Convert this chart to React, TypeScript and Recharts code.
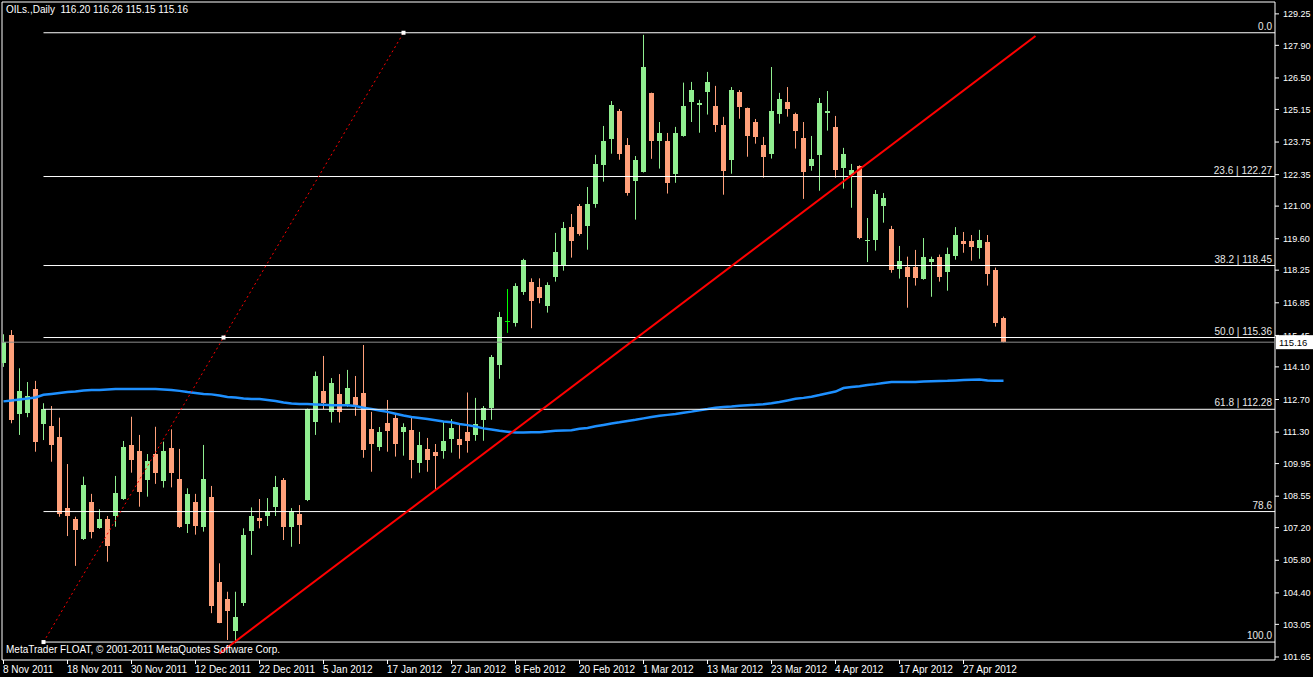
import {
  ComposedChart,
  Bar,
  Line,
  XAxis,
  YAxis,
  ReferenceLine,
  ReferenceArea,
} from 'recharts';

const FONT = '"Liberation Sans", Arial, sans-serif';

const BULL = '#90ee90';
const BEAR = '#ffa07a';
const DOJI = '#00ff00';

// daily OHLC, 8 Nov 2011 .. 4 May 2012 (one row per trading day)
const opens = [
  114.25, 115.47, 112.08, 112.13, 113.15, 111.65, 111.56, 111.11,
  108.04, 107.57, 106.7, 108.3, 107.19, 107.57, 107.7, 108.43,
  110.75, 110.49, 109.25, 110.36, 109.2, 110.61, 109.29, 107.37,
  108.3, 107.23, 108.52, 104.87, 104.14, 102.78, 103.98, 107.07,
  107.62, 107.7, 108.09, 109.25, 107.23, 107.79, 108.39, 111.75,
  113.07, 112.18, 112.94, 112.51, 112.81, 112.98, 111.44, 110.68,
  111.69, 111.91, 111.32, 111.39, 109.99, 110.58, 110.45, 110.5,
  111.02, 111.01, 111.31, 111.19, 111.83, 112.35, 114.2, 116.08,
  116.0, 117.33, 117.73, 117.52, 116.73, 117.97, 118.47, 120.11,
  121.01, 120.16, 121.11, 122.78, 123.9, 125.08, 123.62, 122.09,
  122.48, 125.85, 123.81, 123.79, 122.39, 124.01, 125.47, 125.35,
  125.9, 125.29, 124.48, 122.99, 125.9, 125.21, 124.61, 123.62,
  123.25, 124.97, 125.46, 124.95, 123.92, 122.74, 123.21, 125.01,
  124.4, 122.65, 122.34, 122.71, 119.52, 119.56, 121.02, 120.02,
  118.32, 118.4, 118.4, 117.89, 118.62, 118.83, 118.19, 118.87,
  119.5, 119.5, 119.22, 119.46, 118.27, 116.2,
];

const highs = [
  115.5, 115.68, 114.04, 113.45, 113.5, 112.54, 112.42, 111.92,
  109.93, 107.67, 109.39, 108.65, 107.99, 107.7, 109.42, 110.92,
  111.96, 111.18, 110.36, 111.53, 110.89, 111.42, 110.58, 108.89,
  108.65, 110.75, 108.99, 105.67, 104.45, 104.45, 107.17, 108.07,
  108.43, 108.47, 109.42, 109.33, 108.04, 108.17, 112.31, 113.9,
  114.57, 113.62, 113.79, 113.97, 113.71, 115.04, 112.17, 111.52,
  112.68, 112.04, 111.68, 111.94, 111.31, 111.05, 110.79, 111.74,
  111.86, 111.65, 113.0, 112.77, 112.42, 114.61, 116.46, 117.44,
  117.69, 118.74, 117.9, 117.9, 117.73, 119.85, 120.32, 120.66,
  121.09, 121.82, 123.2, 124.44, 125.51, 125.17, 123.92, 123.15,
  128.35, 125.87, 124.61, 124.14, 124.4, 126.3, 126.33, 125.56,
  126.76, 126.16, 124.83, 126.11, 125.98, 125.23, 124.74, 123.97,
  126.97, 125.86, 126.11, 125.01, 124.61, 124.01, 125.64, 125.94,
  124.87, 123.5, 122.81, 122.75, 120.49, 121.69, 121.56, 120.15,
  119.29, 118.83, 119.12, 119.63, 118.83, 118.92, 119.22, 120.1,
  119.89, 119.76, 119.98, 119.76, 118.36, 116.26,
];

const lows = [
  114.1, 111.68, 111.18, 111.94, 110.46, 110.96, 110.03, 107.67,
  106.84, 105.56, 106.67, 106.74, 107.15, 105.74, 107.24, 108.39,
  109.56, 108.1, 108.53, 109.08, 108.92, 108.93, 107.19, 106.97,
  106.9, 107.03, 103.53, 103.1, 102.38, 102.24, 103.84, 106.03,
  107.17, 107.27, 107.7, 106.67, 106.38, 106.5, 108.34, 111.18,
  112.29, 111.71, 111.71, 112.39, 112.0, 110.2, 109.6, 110.5,
  110.46, 110.25, 110.29, 109.32, 109.56, 109.6, 108.82, 110.16,
  110.42, 110.16, 110.42, 110.93, 110.93, 111.83, 113.59, 115.56,
  115.83, 117.19, 115.76, 116.83, 116.43, 117.76, 118.23, 118.79,
  119.73, 119.13, 120.93, 122.05, 123.25, 122.99, 121.45, 120.42,
  122.44, 123.03, 122.61, 121.54, 122.0, 123.98, 124.61, 124.15,
  124.93, 124.18, 121.49, 122.39, 124.75, 123.12, 123.68, 122.22,
  123.04, 124.54, 124.84, 123.47, 121.31, 122.52, 121.66, 124.24,
  122.22, 121.75, 120.93, 119.58, 118.6, 119.09, 120.29, 118.14,
  117.89, 116.64, 117.59, 117.84, 117.11, 117.76, 117.37, 118.7,
  119.0, 118.66, 118.74, 117.59, 115.83, 115.15,
];

const closes = [
  115.18, 111.82, 113.07, 112.85, 110.89, 112.29, 110.75, 107.79,
  107.71, 107.1, 109.03, 107.01, 107.57, 106.41, 108.7, 110.68,
  110.1, 108.73, 110.08, 109.53, 110.49, 109.56, 107.23, 108.65,
  107.29, 109.29, 103.85, 103.12, 103.64, 103.37, 106.89, 107.7,
  107.5, 107.92, 108.95, 107.23, 107.92, 107.32, 112.29, 113.71,
  112.54, 113.41, 112.17, 113.2, 112.47, 110.54, 110.81, 111.31,
  111.36, 110.81, 111.52, 110.1, 110.75, 110.1, 110.28, 110.92,
  111.48, 110.76, 110.93, 111.65, 112.34, 114.53, 116.24, 116.08,
  117.57, 118.69, 116.94, 117.07, 117.6, 119.03, 120.06, 119.52,
  119.82, 121.09, 122.81, 123.79, 125.33, 123.25, 121.58, 122.98,
  126.97, 123.81, 124.14, 122.0, 124.14, 125.29, 125.98, 125.44,
  126.33, 124.48, 122.52, 125.98, 125.27, 124.02, 123.98, 123.12,
  125.08, 125.6, 125.17, 124.24, 122.48, 123.02, 125.42, 125.08,
  122.56, 123.24, 122.55, 119.65, 119.56, 121.52, 121.35, 118.27,
  118.65, 117.97, 117.93, 118.83, 118.73, 117.97, 118.95, 119.76,
  119.39, 119.26, 119.55, 118.1, 116.0, 115.16,
];

// blue moving average
const ma = [
  112.62, 112.66, 112.7, 112.74, 112.79, 112.9, 112.94, 112.98,
  113.02, 113.04, 113.09, 113.11, 113.11, 113.13, 113.15, 113.15,
  113.15, 113.15, 113.15, 113.15, 113.13, 113.11, 113.07, 113.02,
  112.98, 112.94, 112.92, 112.87, 112.81, 112.79, 112.74, 112.72,
  112.72, 112.68, 112.64, 112.57, 112.53, 112.51, 112.51, 112.49,
  112.47, 112.45, 112.45, 112.45, 112.42, 112.35, 112.29, 112.23,
  112.17, 112.09, 112.01, 111.95, 111.91, 111.86, 111.81, 111.76,
  111.72, 111.65, 111.6, 111.54, 111.46, 111.41, 111.36, 111.32,
  111.28, 111.28, 111.29, 111.29, 111.33, 111.36, 111.37, 111.38,
  111.44, 111.48, 111.55, 111.61, 111.67, 111.72, 111.78, 111.83,
  111.89, 111.95, 112.0, 112.04, 112.08, 112.13, 112.18, 112.24,
  112.29, 112.35, 112.38, 112.4, 112.43, 112.45, 112.47, 112.5,
  112.54, 112.59, 112.66, 112.73, 112.77, 112.82, 112.89, 112.97,
  113.04, 113.19, 113.24, 113.27, 113.32, 113.36, 113.41, 113.45,
  113.45, 113.45, 113.45, 113.47, 113.48, 113.49, 113.5, 113.52,
  113.54, 113.55, 113.56, 113.52, 113.5, 113.5,
];

const dateTicks = [0, 8, 16, 24, 32, 40, 48, 56, 64, 72, 80, 88, 96, 104, 112, 120];
const dateLabels = [
  '8 Nov 2011', '18 Nov 2011', '30 Nov 2011', '12 Dec 2011',
  '22 Dec 2011', '5 Jan 2012', '17 Jan 2012', '27 Jan 2012',
  '8 Feb 2012', '20 Feb 2012', '1 Mar 2012', '13 Mar 2012',
  '23 Mar 2012', '4 Apr 2012', '17 Apr 2012', '27 Apr 2012',
];

const priceTicks = [
  129.25, 127.9, 126.5, 125.15, 123.75, 122.35, 121.0, 119.6, 118.25, 116.85,
  115.45, 114.1, 112.7, 111.3, 109.95, 108.55, 107.2, 105.8, 104.4, 103.05, 101.65,
];

// fibonacci retracement drawn from bar 5 (low) to bar 50 (high)
const fibPrices = [128.44, 122.27, 118.45, 115.36, 112.28, 107.89, 102.29];
const fibLabels = ['0.0', '23.6 | 122.27', '38.2 | 118.45', '50.0 | 115.36', '61.8 | 112.28', '78.6', '100.0'];
const fibAnchors = [
  { idx: 5, v: 102.29 },
  { idx: 27.5, v: 115.36 },
  { idx: 50, v: 128.44 },
];

// red trend line
const trendLine = [
  { idx: 27, v: 101.8 },
  { idx: 129, v: 128.3 },
];

const XMIN = -0.1875;
const XMAX = 158.9375;
const YMIN = 101.52;
const YMAX = 129.76;

const Candle = (props: any) => {
  const { x, y, width, height, payload } = props;
  const { open, close, high, low } = payload;
  const cx = Math.floor(x + width / 2);
  const py = (v: number) => y + ((high - v) / (high - low)) * height;
  if (open === close) {
    const oy = Math.round(py(open));
    return (
      <g>
        <rect x={cx} y={y} width={1} height={height} fill={DOJI} />
        <rect x={cx - 2} y={oy} width={5} height={1} fill={DOJI} />
      </g>
    );
  }
  const color = close > open ? BULL : BEAR;
  const top = Math.round(py(Math.max(open, close)));
  const bottom = Math.round(py(Math.min(open, close)));
  return (
    <g>
      <rect x={cx} y={y} width={1} height={height} fill={color} />
      <rect x={cx - 2} y={top} width={5} height={Math.max(1, bottom - top)} fill={color} />
    </g>
  );
};

const DateTick = (props: any) => {
  const { x, y, payload } = props;
  const i = dateTicks.indexOf(payload.value);
  return (
    <text x={Math.floor(x)} y={y + 7} fill="#fff" fontSize={10} fontFamily={FONT} textAnchor="start">
      {dateLabels[i]}
    </text>
  );
};

const FibDot = (props: any) => {
  const { cx, cy } = props;
  return <rect x={cx - 2} y={cy - 2} width={4} height={4} fill="#fff" />;
};

const last = opens.length - 1;

const BidLabel = (props: any) => {
  const { viewBox } = props;
  const right = viewBox.x + viewBox.width;
  const y = viewBox.y;
  return (
    <g>
      <rect x={right + 1} y={y - 7} width={37} height={14} fill="#fff" />
      <text x={right + 4} y={y + 4} fill="#000" fontSize={9.5} fontFamily={FONT}>
        {closes[last].toFixed(2)}
      </text>
    </g>
  );
};

export default function App() {
  const data = opens.map((o, i) => ({
    idx: i,
    open: o,
    high: highs[i],
    low: lows[i],
    close: closes[i],
    ma: ma[i],
  }));

  return (
    <div
      style={{
        position: 'absolute',
        left: 0,
        top: 0,
        width: 1313,
        height: 677,
        background: '#000',
        fontFamily: FONT,
      }}
    >
      <ComposedChart width={1313} height={677} data={data} margin={{ top: 2, right: 0, bottom: 0, left: 2 }}>
        <XAxis
          dataKey="idx"
          type="number"
          domain={[XMIN, XMAX]}
          allowDataOverflow
          ticks={dateTicks}
          interval={0}
          height={17}
          axisLine={false}
          tickLine={{ stroke: '#fff' }}
          tickSize={4}
          tick={<DateTick />}
        />
        <YAxis
          orientation="right"
          type="number"
          domain={[YMIN, YMAX]}
          allowDataOverflow
          ticks={priceTicks}
          interval={0}
          width={38}
          axisLine={false}
          tickLine={{ stroke: '#fff' }}
          tickSize={4}
          tickMargin={4}
          tick={{ fill: '#fff', fontSize: 9, fontFamily: FONT }}
          tickFormatter={(v: number) => v.toFixed(2)}
        />
        <ReferenceArea x1={XMIN} x2={XMAX} y1={YMIN} y2={YMAX} fill="none" stroke="#fff" ifOverflow="visible" />
        <Bar dataKey={(d: any) => [d.low, d.high]} barSize={5} shape={<Candle />} isAnimationActive={false} />
        <Line dataKey="ma" stroke="#1e90ff" strokeWidth={2.5} dot={false} isAnimationActive={false} />
        {fibPrices.map((p, i) => (
          <ReferenceLine
            key={fibLabels[i]}
            segment={[
              { x: 5, y: p },
              { x: XMAX, y: p },
            ]}
            stroke="#fff"
            ifOverflow="visible"
            label={{
              value: fibLabels[i],
              position: 'insideBottomRight',
              offset: 3,
              fill: '#e8e8e8',
              fontSize: 10,
              fontFamily: FONT,
            }}
          />
        ))}
        <ReferenceLine y={closes[last]} stroke="#8c8c8c" label={<BidLabel />} />
        <Line
          data={trendLine}
          dataKey="v"
          stroke="#ff0000"
          strokeWidth={2}
          dot={false}
          isAnimationActive={false}
        />
        <Line
          data={fibAnchors}
          dataKey="v"
          stroke="#ff0000"
          strokeWidth={1}
          strokeDasharray="2 3"
          dot={<FibDot />}
          isAnimationActive={false}
        />
      </ComposedChart>
      <div
        style={{
          position: 'absolute',
          left: 6,
          top: 4,
          color: '#fff',
          fontSize: 10,
          whiteSpace: 'pre',
        }}
      >
        {`OILs.,Daily  ${opens[last].toFixed(2)} ${highs[last].toFixed(2)} ${lows[last].toFixed(2)} ${closes[last].toFixed(2)}`}
      </div>
      <div
        style={{
          position: 'absolute',
          left: 6,
          top: 644,
          color: '#fff',
          fontSize: 10,
          whiteSpace: 'pre',
        }}
      >
        MetaTrader FLOAT, © 2001-2011 MetaQuotes Software Corp.
      </div>
    </div>
  );
}
